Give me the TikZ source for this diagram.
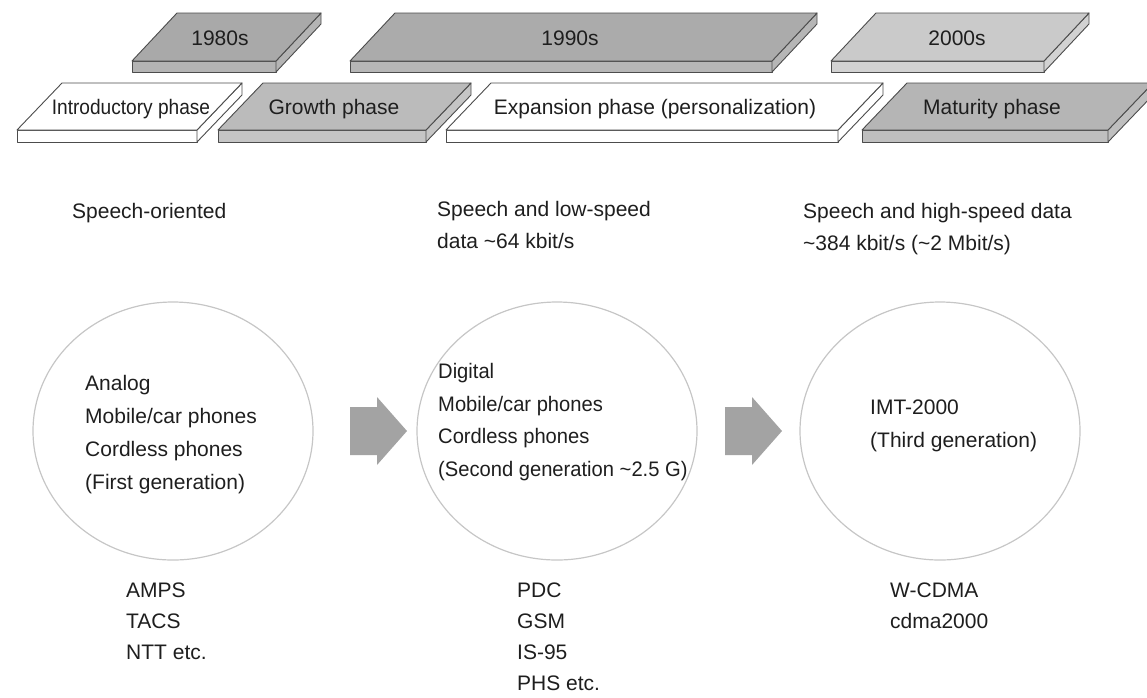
\documentclass[tikz,border=0pt]{standalone}
\usepackage{fontspec}
\setmainfont{Liberation Sans}
\usetikzlibrary{shapes.geometric}

\definecolor{inkgray}{HTML}{1E1E1E}
\definecolor{edgegray}{HTML}{4C4C4C}
\definecolor{ringgray}{HTML}{C6C6C6}
\definecolor{arrowgray}{HTML}{A3A3A3}
\definecolor{decadeA}{HTML}{A9A9A9}
\definecolor{decadeAfront}{HTML}{B4B4B4}
\definecolor{decadeB}{HTML}{ABABAB}
\definecolor{decadeBfront}{HTML}{B6B6B6}
\definecolor{decadeC}{HTML}{CACACA}
\definecolor{decadeCfront}{HTML}{D2D2D2}
\definecolor{phaseGrow}{HTML}{BBBBBB}
\definecolor{phaseGrowfront}{HTML}{C5C5C5}
\definecolor{phaseMat}{HTML}{B5B5B5}
\definecolor{phaseMatfront}{HTML}{BFBFBF}

\tikzset{
  slabedge/.style={draw=edgegray, line width=0.9pt, line join=round},
  txt/.style={inner sep=0pt, anchor=base west, text=inkgray,
              font=\fontsize{21}{25}\selectfont},
  ctxt/.style={txt, anchor=base},
  era/.style={ellipse, draw=ringgray, line width=1.2pt, inner sep=0pt,
              minimum width=280pt, minimum height=258pt},
  arrowfill/.style={fill=arrowgray}
}

% a flat slab seen from above: name, bottom-left x, front-right x,
% top y, top-face bottom y, front bottom y, top fill, front fill
\newcommand\slabshape[8]{%
  \coordinate (#1-bl) at (#2,#5);
  \coordinate (#1-tl) at ({#2+45},#4);
  \coordinate (#1-tr) at ({#3+45},#4);
  \coordinate (#1-fr) at (#3,#5);
  \coordinate (#1-br) at (#3,#6);
  \coordinate (#1-fl) at (#2,#6);
  \coordinate (#1-trb) at ({#3+45},{#4+#6-#5});
  \filldraw[slabedge, fill=#8] (#1-bl) -- (#1-fr) -- (#1-br) -- (#1-fl) -- cycle;
  \filldraw[slabedge, fill=#8] (#1-fr) -- (#1-tr) -- (#1-trb) -- (#1-br) -- cycle;
  \filldraw[slabedge, fill=#7] (#1-bl) -- (#1-tl) -- (#1-tr) -- (#1-fr) -- cycle;
}

% block arrow: shaft start x, centre y
\newcommand\blockarrow[2]{%
  \fill[arrowfill] (#1,{#2-24}) -- ++(27,0) -- ++(0,-10) -- ++(30,34)
    -- ++(-30,34) -- ++(0,-10) -- ++(-27,0) -- cycle;
}

\begin{document}
\begin{tikzpicture}[x=1pt, y=-1pt]
  \useasboundingbox (0,0) rectangle (1147,697);
  \clip (0,0) rectangle (1147,697);

  % decades
  \slabshape{dA}{132}{276}{13}{61}{72}{decadeA}{decadeAfront}
  \slabshape{dB}{350}{772}{13}{61}{72}{decadeB}{decadeBfront}
  \slabshape{dC}{831}{1044}{13}{61}{72}{decadeC}{decadeCfront}
  \node[ctxt] (t1980) at (220,45.5) {1980s};
  \node[ctxt] (t1990) at (570,45.5) {1990s};
  \node[ctxt] (t2000) at (957,45.5) {2000s};

  % phases
  \slabshape{pA}{17}{197}{83}{130}{142}{white}{white}
  \slabshape{pB}{218}{426}{83}{130}{142}{phaseGrow}{phaseGrowfront}
  \slabshape{pC}{446}{838}{83}{130}{142}{white}{white}
  \slabshape{pD}{862}{1108}{83}{130}{142}{phaseMat}{phaseMatfront}
  \node[ctxt] (intro) at (131,114) {\scalebox{0.91}[1]{Introductory phase}};
  \node[ctxt] (growth) at (334,114) {Growth phase};
  \node[ctxt] (expansion) at (655,114) {Expansion phase (personalization)};
  \node[ctxt] (maturity) at (992,114) {Maturity phase};

  % service characteristics
  \node[txt] (svc1) at (72,218) {Speech-oriented};
  \node[txt] (svc2a) at (437,216) {Speech and low-speed};
  \node[txt] (svc2b) at (437,248) {data \textasciitilde64 kbit/s};
  \node[txt] (svc3a) at (803,218) {Speech and high-speed data};
  \node[txt] (svc3b) at (803,250) {\textasciitilde384 kbit/s (\textasciitilde2 Mbit/s)};

  % generations
  \node[era] (gen1) at (173,431) {};
  \node[era] (gen2) at (557,431) {};
  \node[era] (gen3) at (940,431) {};
  \blockarrow{350}{431}
  \blockarrow{725}{431}

  \foreach \t [count=\i] in {{Analog},{Mobile/car phones},{Cordless phones},{(First generation)}}
    \node[txt] (g1-\i) at (85,{390.5+33*(\i-1)}) {\t};
  \foreach \t [count=\i] in {{Digital},{Mobile/car phones},{Cordless phones},{(Second generation \textasciitilde2.5 G)}}
    \node[txt] (g2-\i) at (438,{378.5+32.5*(\i-1)}) {\scalebox{0.96}[1]{\t}};
  \foreach \t [count=\i] in {{IMT-2000},{(Third generation)}}
    \node[txt] (g3-\i) at (870,{414.5+33*(\i-1)}) {\t};

  % systems
  \foreach \t [count=\i] in {{AMPS},{TACS},{NTT etc.}}
    \node[txt] (s1-\i) at (126,{597.5+31*(\i-1)}) {\t};
  \foreach \t [count=\i] in {{PDC},{GSM},{IS-95},{PHS etc.}}
    \node[txt] (s2-\i) at (517,{597.5+31*(\i-1)}) {\t};
  \foreach \t [count=\i] in {{W-CDMA},{cdma2000}}
    \node[txt] (s3-\i) at (890,{597.5+31*(\i-1)}) {\t};
\end{tikzpicture}
\end{document}
